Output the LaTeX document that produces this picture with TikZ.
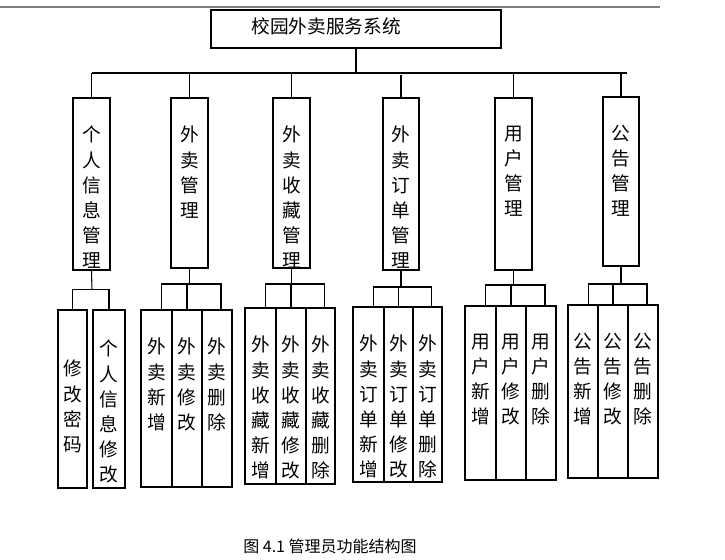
\documentclass[tikz,border=0pt]{standalone}
\usepackage{fontspec}
\newfontfamily\cjk{Noto Sans CJK SC}
\tikzset{
  bx/.style={draw,line width=0.8pt,inner sep=0pt},
  vt/.style={font=\cjk\fontsize{14}{18.8}\selectfont,align=center,inner sep=0pt,anchor=north},
  ln/.style={line width=0.8pt}
}
% #1 name, #2 x1, #3 x2, #4 y1, #5 y2, #6 text, #7 text top offset
\newcommand\mybox[7]{%
  \node[bx,minimum width={(#3-#2)*0.75pt},minimum height={(#5-#4)*0.75pt}] (#1) at ({(#2+#3)/2},{(#4+#5)/2}) {};
  \node[vt] (#1t) at ({(#2+#3)/2},{#4+#7}) {#6};}
\begin{document}
\begin{tikzpicture}[x=0.75pt,y=-0.75pt]
\useasboundingbox (0,0) rectangle (725,560);
\draw[gray,line width=0.8pt] (0,7) -- (660,7);
\node[bx,minimum width={290*0.75pt},minimum height={38*0.75pt}] (root) at (356,29) {};
\node[font=\cjk\fontsize{14}{16}\selectfont,inner sep=0pt] (roott) at (326,26) {校园外卖服务系统};
\coordinate (bus) at (356,73);
\draw[ln] (root.south) -- (bus);
\draw[ln] (92,73) -- (627,73);
\mybox{a}{73}{110}{98}{270}{个\\人\\信\\息\\管\\理}{28}
\mybox{b}{171}{208}{98}{268}{外\\卖\\管\\理}{28}
\mybox{c}{273}{310}{98}{268}{外\\卖\\收\\藏\\管\\理}{28}
\mybox{d}{383}{419}{98}{270}{外\\卖\\订\\单\\管\\理}{28}
\mybox{e}{495}{532}{98}{270}{用\\户\\管\\理}{28}
\mybox{f}{603}{639}{97}{266}{公\\告\\管\\理}{28}
\foreach \n in {a,b,c,e,f} \draw[ln] (\n.north) -- (\n.north |- bus);
\draw[ln] (d.north) -- ++(0,-22);
% level 2
\mybox{a1}{58}{87}{310}{488}{修\\改\\密\\码}{50}
\mybox{a2}{93}{125}{310}{488}{个\\人\\信\\息\\修\\改}{30}
\mybox{b1}{141}{172}{310}{487}{外\\卖\\新\\增}{28}
\mybox{b2}{172}{202}{310}{487}{外\\卖\\修\\改}{28}
\mybox{b3}{202}{232}{310}{487}{外\\卖\\删\\除}{28}
\mybox{c1}{245}{276}{308}{484}{外\\卖\\收\\藏\\新\\增}{28}
\mybox{c2}{276}{306}{308}{484}{外\\卖\\收\\藏\\修\\改}{28}
\mybox{c3}{306}{335}{308}{484}{外\\卖\\收\\藏\\删\\除}{28}
\mybox{d1}{353}{384}{307}{482}{外\\卖\\订\\单\\新\\增}{28}
\mybox{d2}{384}{413}{307}{482}{外\\卖\\订\\单\\修\\改}{28}
\mybox{d3}{413}{442}{307}{482}{外\\卖\\订\\单\\删\\除}{28}
\mybox{e1}{465}{496}{306}{480}{用\\户\\新\\增}{28}
\mybox{e2}{496}{526}{306}{480}{用\\户\\修\\改}{28}
\mybox{e3}{526}{556}{306}{480}{用\\户\\删\\除}{28}
\mybox{f1}{568}{598}{305}{478}{公\\告\\新\\增}{28}
\mybox{f2}{598}{628}{305}{478}{公\\告\\修\\改}{28}
\mybox{f3}{628}{658}{305}{478}{公\\告\\删\\除}{28}
% group connectors
\coordinate (ja) at (92,290);
\draw[ln] (a.south) -- (ja);
\draw[ln] (a1.north) -- ++(0,-20) -| (a2.north);
\foreach \g/\y in {b/284,c/284,d/287,e/285,f/284}{
  \draw[ln] (\g.south) -- (\g.south |- 0,\y);
  \draw[ln] ([xshift=4pt]\g1.north) -- ([xshift=4pt]\g1.north |- 0,\y) -- ([xshift=3pt]\g3.north |- 0,\y) -- ([xshift=3pt]\g3.north);
  \draw[ln] (\g2.north) -- (\g2.north |- 0,\y);
}
\node[font=\cjk\fontsize{12}{14}\selectfont,inner sep=0pt] (cap) at (330,546) {图 4.1 管理员功能结构图};
\end{tikzpicture}
\end{document}
